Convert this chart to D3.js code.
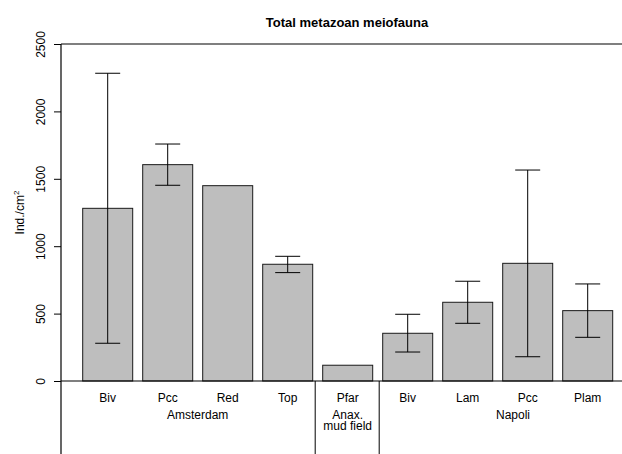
<!DOCTYPE html>
<html>
<head>
<meta charset="utf-8">
<script src="https://cdn.jsdelivr.net/npm/d3@7"></script>
<style>
  html, body { margin: 0; padding: 0; background: #fff; }
  svg { display: block; }
  text { font-family: "Liberation Sans", Arial, Helvetica, sans-serif; fill: #000; }
</style>
</head>
<body>
<div id="chart"></div>
<script>
// Sampling sites and the habitat group each belongs to
const sites  = ["Biv", "Pcc", "Red", "Top", "Pfar", "Biv", "Lam", "Pcc", "Plam"];
const groups = ["Amsterdam", "Amsterdam", "Amsterdam", "Amsterdam", "Anax.", "Napoli", "Napoli", "Napoli", "Napoli"];
const groupNames = ["Amsterdam", "Anax.\nmud field", "Napoli"];
// Mean density (ind./cm²) and error bar limits; null = no error bar
const means = [1281, 1605, 1449, 866, 117, 354, 584, 873, 522];
const upper = [2283, 1758, null, 925, null, 495, 740, 1565, 720];
const lower = [280, 1452, null, 804, null, 215, 428, 180, 324];
const yTicks = [0, 500, 1000, 1500, 2000, 2500];

const W = 622, H = 454;
const plotLeft = 61, plotTop = 44, plotBase = 381;

const svg = d3.select("#chart").append("svg")
  .attr("width", W).attr("height", H);

const y = d3.scaleLinear().domain([0, 2500]).range([plotBase, plotTop]);
const x = d3.scaleBand()
  .domain(d3.range(sites.length))
  .range([77.7, 617.7])
  .paddingInner(1 / 6)
  .paddingOuter(1 / 12);

// Title
svg.append("text")
  .attr("x", 347).attr("y", 26.5)
  .attr("text-anchor", "middle")
  .style("font-size", "13px").style("font-weight", "bold")
  .text("Total metazoan meiofauna");

// Bars
svg.append("g").selectAll("rect")
  .data(means)
  .join("rect")
  .attr("x", (d, i) => x(i))
  .attr("y", d => y(d))
  .attr("width", x.bandwidth())
  .attr("height", d => y(0) - y(d))
  .attr("fill", "#bebebe")
  .attr("stroke", "#1a1a1a")
  .attr("stroke-width", 1);

// Error bars
const cap = x.bandwidth() / 4;
const eb = svg.append("g").attr("stroke", "#000").attr("stroke-width", 1);
means.forEach((m, i) => {
  if (upper[i] == null) return;
  const cx = x(i) + x.bandwidth() / 2;
  eb.append("line").attr("x1", cx).attr("x2", cx).attr("y1", y(upper[i])).attr("y2", y(lower[i]));
  eb.append("line").attr("x1", cx - cap).attr("x2", cx + cap).attr("y1", y(upper[i])).attr("y2", y(upper[i]));
  eb.append("line").attr("x1", cx - cap).attr("x2", cx + cap).attr("y1", y(lower[i])).attr("y2", y(lower[i]));
});

// Y axis
const yAxis = d3.axisLeft(y).tickValues(yTicks).tickSize(7).tickSizeOuter(0).tickFormat(d3.format("d"));
const ya = svg.append("g").attr("transform", `translate(${plotLeft},0)`).call(yAxis);
ya.select(".domain").remove();
ya.selectAll(".tick line").attr("stroke", "#000");
ya.selectAll(".tick text")
  .style("font-size", "12px")
  .attr("x", null).attr("dy", null)
  .attr("text-anchor", "middle")
  .attr("transform", "translate(-16,0) rotate(-90)")
  .attr("y", 0);

// Frame lines: left axis, top line, baseline
const frame = svg.append("g").attr("stroke", "#000").attr("stroke-width", 1.2).attr("fill", "none");
frame.append("line").attr("x1", plotLeft).attr("x2", plotLeft).attr("y1", plotTop).attr("y2", H);
frame.append("line").attr("x1", plotLeft).attr("x2", W).attr("y1", plotTop).attr("y2", plotTop);
frame.append("line").attr("x1", plotLeft).attr("x2", W).attr("y1", plotBase).attr("y2", plotBase);

// Group separators below the baseline
const seps = [x(4) - 7.5, x(5) - 3.5];
svg.append("g").attr("stroke", "#000").attr("stroke-width", 1).selectAll("line")
  .data(seps).join("line")
  .attr("x1", d => d).attr("x2", d => d).attr("y1", plotBase).attr("y2", H);

// Y label
svg.append("text")
  .attr("transform", `translate(24,${(plotTop + plotBase) / 2}) rotate(-90)`)
  .attr("text-anchor", "middle")
  .style("font-size", "12px")
  .html('Ind./cm<tspan dy="-5" style="font-size:8px">2</tspan>');

// Site labels
svg.append("g").selectAll("text")
  .data(sites).join("text")
  .attr("x", (d, i) => x(i) + x.bandwidth() / 2)
  .attr("y", 401.5)
  .attr("text-anchor", "middle")
  .style("font-size", "12px")
  .text(d => d);

// Group labels, centred under their bars (Napoli label sits a little right)
const groupCentres = [
  d3.mean([0, 3], i => x(i) + x.bandwidth() / 2),
  x(4) + x.bandwidth() / 2,
  513
];
groupNames.forEach((g, k) => {
  const lines = g.split("\n");
  const t = svg.append("text")
    .attr("x", groupCentres[k])
    .attr("y", 419)
    .attr("text-anchor", "middle")
    .style("font-size", "12px");
  lines.forEach((ln, j) => {
    t.append("tspan").attr("x", groupCentres[k]).attr("dy", j === 0 ? 0 : 10.5).text(ln);
  });
});
</script>
</body>
</html>
